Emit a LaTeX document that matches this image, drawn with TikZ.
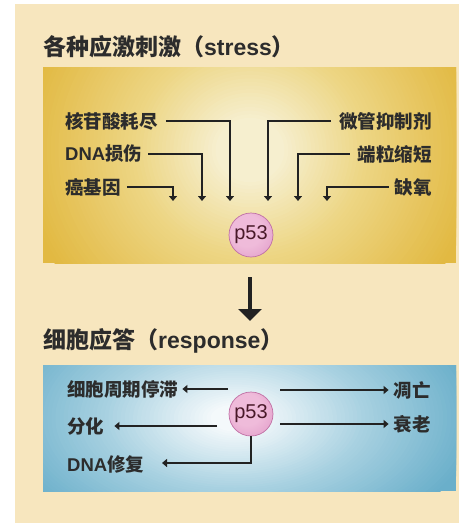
\documentclass[tikz,border=0pt]{standalone}
\usepackage{fontspec}
\setmainfont{Liberation Sans}
\newfontfamily\cjk{Noto Sans CJK SC}
\usetikzlibrary{arrows.meta}
\definecolor{cream}{HTML}{F7E6BE}
\definecolor{ygold}{HTML}{E2B942}
\definecolor{ymid}{HTML}{EDD685}
\definecolor{ylight}{HTML}{F6EFCF}
\definecolor{bedge}{HTML}{6AAFCA}
\definecolor{bmid}{HTML}{A6D0E0}
\definecolor{blight}{HTML}{F4F9FB}
\definecolor{pinkin}{HTML}{EFBBDA}
\definecolor{pinkout}{HTML}{D786BC}
\definecolor{pinkline}{HTML}{C070A5}
\definecolor{ink}{HTML}{222222}
\definecolor{txt}{HTML}{2C2C2C}
\pgfdeclareradialshading{pinkshade}{\pgfpoint{-8bp}{8bp}}{color(0bp)=(pinkin);color(18bp)=(pinkin);color(50bp)=(pinkout)}
\tikzset{
  lbl/.style={inner sep=0pt, text=txt, font=\cjk\bfseries\fontsize{18.5}{20}\selectfont},
  ttl/.style={inner sep=0pt, text=txt, font=\bfseries\fontsize{23}{25}\selectfont},
  pnode/.style={circle, minimum size=44pt, inner sep=0pt, shading=pinkshade, draw=pinkline, line width=0.7pt,
     text=ink!75!purple, font=\fontsize{20}{22}\selectfont},
  arr/.style={draw=ink, line width=2.5pt, -{Triangle[length=5pt,width=8pt]}},
  bigarr/.style={draw=ink, line width=3.8pt, -{Triangle[length=12pt,width=23pt]}}
}
\begin{document}
\begin{tikzpicture}[x=1pt,y=-1pt]
\useasboundingbox (0,0) rectangle (459,523);
\fill[white] (0,0) rectangle (459,523);
\fill[cream] (15,4) rectangle (459,523);
% yellow box
\begin{scope}
\clip (43,67) rectangle (456,263);
\fill[ygold] (43,67) rectangle (456,263);
\foreach \i in {0,...,59}{
  \pgfmathsetmacro\r{1-\i/60}
  \pgfmathtruncatemacro\pa{max(0,min(100,(1-\r)/0.5*100))}
  \pgfmathtruncatemacro\pb{max(0,min(100,(0.5-\r)/0.35*100))}
  \ifnum\pb=0
    \fill[ymid!\pa!ygold] (250,150) ellipse [x radius=230*\r, y radius=215*\r];
  \else
    \fill[ylight!\pb!ymid] (250,150) ellipse [x radius=230*\r, y radius=215*\r];
  \fi
}
\end{scope}
% blue box
\begin{scope}
\clip (43,365) rectangle (456,491);
\fill[bedge] (43,365) rectangle (456,491);
\foreach \i in {0,...,59}{
  \pgfmathsetmacro\r{1-\i/60}
  \pgfmathtruncatemacro\pa{max(0,min(100,(1-\r)/0.45*100))}
  \pgfmathtruncatemacro\pb{max(0,min(100,(0.55-\r)/0.45*100))}
  \ifnum\pb=0
    \fill[bmid!\pa!bedge] (235,418) ellipse [x radius=245*\r, y radius=135*\r];
  \else
    \fill[blight!\pb!bmid] (235,418) ellipse [x radius=245*\r, y radius=135*\r];
  \fi
}
\end{scope}

% titles
\node[ttl, anchor=west] (t1) at (43,47) {{\cjk 各种应激刺激（}stress{\cjk ）}};
\node[ttl, anchor=west] (t2) at (43,341) {{\cjk 细胞应答（}response{\cjk ）}};

% stress labels
\node[lbl, anchor=west] (a1) at (65,121) {核苷酸耗尽};
\node[lbl, anchor=west] (a2) at (65,154) {{\rmfamily\bfseries DNA}损伤};
\node[lbl, anchor=west] (a3) at (65,187) {癌基因};
\node[lbl, anchor=east] (b1) at (432,121) {微管抑制剂};
\node[lbl, anchor=east] (b2) at (432,154) {端粒缩短};
\node[lbl, anchor=east] (b3) at (432,187) {缺氧};

\coordinate (ta1) at (230,201);
\coordinate (ta2) at (202,201);
\coordinate (ta3) at (173,201);
\coordinate (tb1) at (268,201);
\coordinate (tb2) at (298,201);
\coordinate (tb3) at (327,201);

\draw[arr] ([xshift=8pt]a1.east) -| (ta1);
\draw[arr] ([xshift=6pt]a2.east) -| (ta2);
\draw[arr] ([xshift=6pt]a3.east) -| (ta3);
\draw[arr] ([xshift=-8pt]b1.west) -| (tb1);
\draw[arr] ([xshift=-8pt]b2.west) -| (tb2);
\draw[arr] ([xshift=-6pt]b3.west) -| (tb3);

\node[pnode] (p1) at (251,235) {p53};

% big arrow
\coordinate (bs) at (250,277);
\coordinate (be) at (250,321);
\draw[bigarr] (bs) -- (be);

% response
\node[pnode] (p2) at (251,414) {p53};
\node[lbl, anchor=west] (r1) at (67,389) {细胞周期停滞};
\node[lbl, anchor=west] (r2) at (67,426) {分化};
\node[lbl, anchor=west] (r3) at (67,464) {{\rmfamily\bfseries DNA}修复};
\node[lbl, anchor=east] (s1) at (431,390) {凋亡};
\node[lbl, anchor=east] (s2) at (431,424) {衰老};

\coordinate (c1) at (228,389);
\coordinate (c2) at (217,426);
\coordinate (c3) at (280,390);
\coordinate (c4) at (280,424);
\coordinate (c5) at (162,463);

\draw[arr] (c1) -- ([xshift=4pt]r1.east |- c1);
\draw[arr] (c2) -- ([xshift=10pt]r2.east |- c2);
\draw[arr] (c3) -- ([xshift=-5pt]s1.west |- c3);
\draw[arr] (c4) -- ([xshift=-5pt]s2.west |- c4);
\draw[arr] (p2.south) |- (c5);
\end{tikzpicture}
\end{document}
